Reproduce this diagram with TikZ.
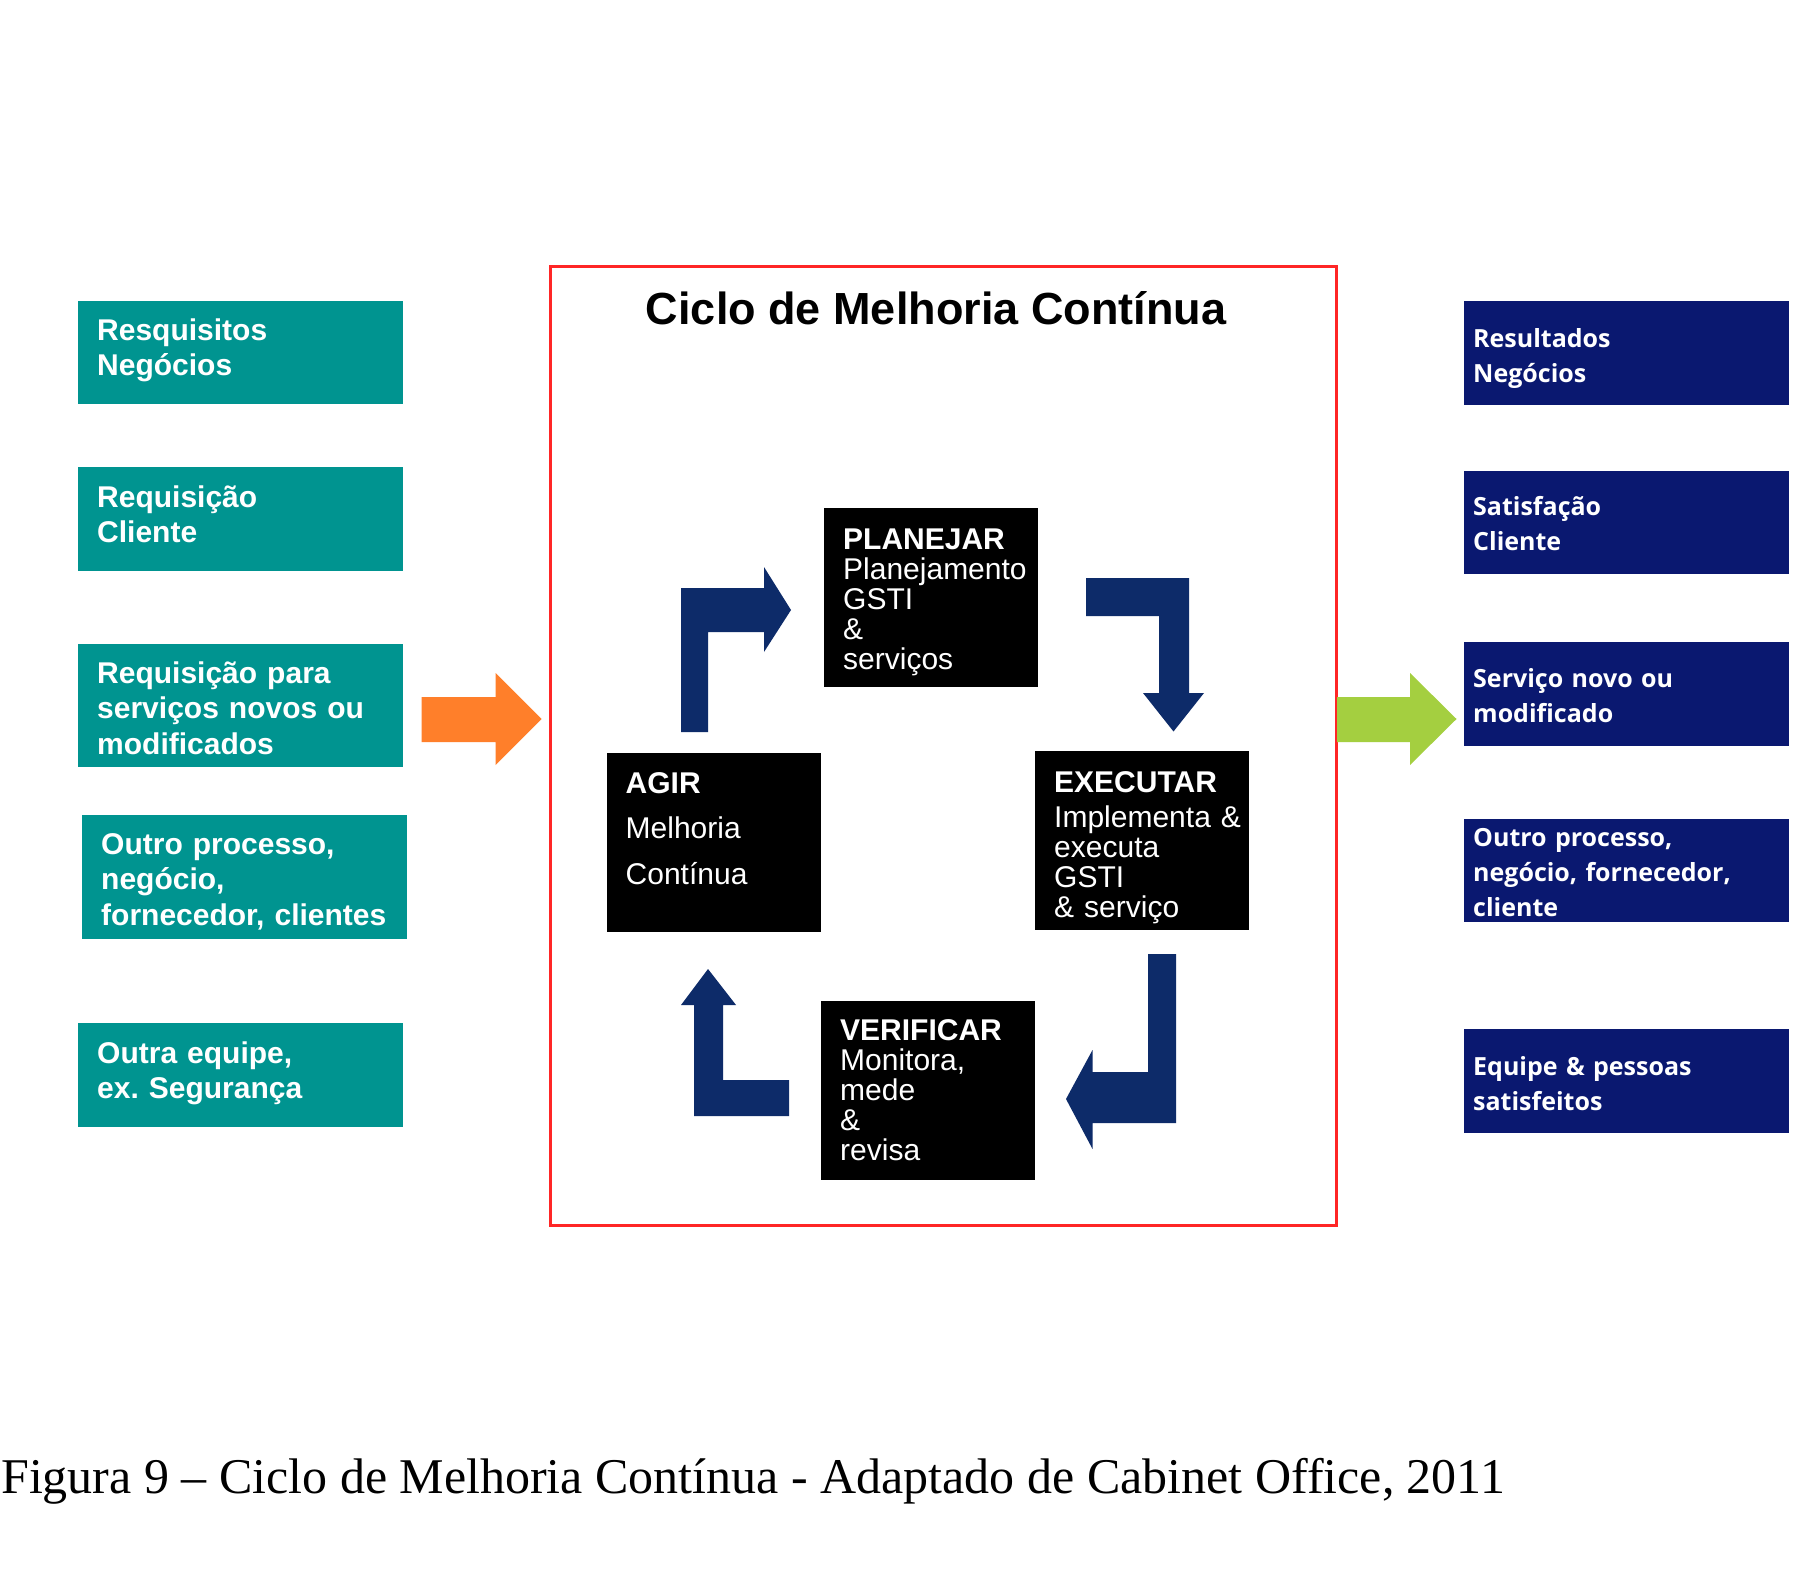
\documentclass[tikz,border=0pt]{standalone}
\usepackage{fontspec}
\setmainfont{Liberation Sans}
\newfontfamily\osfont{Open Sans}
\newfontfamily\capfont{Liberation Serif}
\definecolor{tealc}{RGB}{0,148,144}
\definecolor{navybox}{RGB}{10,24,112}
\definecolor{arrowc}{RGB}{13,43,105}
\definecolor{orangec}{RGB}{255,127,42}
\definecolor{greenc}{RGB}{164,207,64}
\definecolor{redc}{RGB}{255,38,38}
\frenchspacing
\begin{document}
\begin{tikzpicture}[x=1pt,y=-1pt,
  lbox/.style={fill=tealc,draw=none,inner sep=0pt,anchor=north west,minimum width=325pt},
  rbox/.style={fill=navybox,draw=none,inner sep=0pt,anchor=north west,minimum width=325pt},
  bbox/.style={fill=black,draw=none,inner sep=0pt,anchor=north west,minimum width=214pt,minimum height=179pt},
  ltext/.style={anchor=base west,align=left,text width=310pt,inner sep=0pt,text=white,font=\bfseries\fontsize{30}{35.5}\selectfont},
  rtext/.style={anchor=base west,align=left,text width=310pt,inner sep=0pt,text=white,font=\osfont\bfseries\fontsize{25}{35}\selectfont},
  btext/.style={anchor=base west,align=left,text width=200pt,inner sep=0pt,text=white,font=\fontsize{30}{30}\selectfont},
  blockarrow/.style={fill=arrowc,draw=none}
]
\useasboundingbox (0,0) rectangle (1816,1592);
\fill[white] (0,0) rectangle (1816,1592);

% red frame
\node[draw=redc,line width=3pt,inner sep=0pt,anchor=north west,minimum width=786pt,minimum height=959pt] (frame) at (549,265) {};
\node[anchor=base,inner sep=0pt,font=\bfseries\fontsize{45}{50}\selectfont] (title) at (936,324) {Ciclo de Melhoria Contínua};

% left boxes
\node[lbox,minimum height=103pt] (L1) at (78,301) {};
\node[lbox,minimum height=104pt] (L2) at (78,467) {};
\node[lbox,minimum height=123pt] (L3) at (78,644) {};
\node[lbox,minimum height=124pt] (L4) at (82,815) {};
\node[lbox,minimum height=104pt] (L5) at (78,1023) {};
\node[ltext] (L1t) at ([xshift=19pt,yshift=-39pt]L1.north west) {Resquisitos\\Negócios};
\node[ltext] (L2t) at ([xshift=19pt,yshift=-40pt]L2.north west) {Requisição\\Cliente};
\node[ltext] (L3t) at ([xshift=19pt,yshift=-39pt]L3.north west) {Requisição para\\serviços novos ou\\modificados};
\node[ltext] (L4t) at ([xshift=19pt,yshift=-39pt]L4.north west) {Outro processo,\\negócio,\\fornecedor, clientes};
\node[ltext] (L5t) at ([xshift=19pt,yshift=-40pt]L5.north west) {Outra equipe,\\ex. Segurança};

% right boxes
\node[rbox,minimum height=104pt] (R1) at (1464,301) {};
\node[rbox,minimum height=103pt] (R2) at (1464,470.5) {};
\node[rbox,minimum height=104pt] (R3) at (1464,642) {};
\node[rbox,minimum height=103pt] (R4) at (1464,819) {};
\node[rbox,minimum height=104pt] (R5) at (1464,1029) {};
\node[rtext] (R1t) at ([xshift=9pt,yshift=-46pt]R1.north west) {Resultados\\Negócios};
\node[rtext] (R2t) at ([xshift=9pt,yshift=-45pt]R2.north west) {Satisfação\\Cliente};
\node[rtext] (R3t) at ([xshift=9pt,yshift=-45pt]R3.north west) {Serviço novo ou\\modificado};
\node[rtext] (R4t) at ([xshift=9pt,yshift=-27pt]R4.north west) {Outro processo,\\negócio, fornecedor,\\cliente};
\node[rtext] (R5t) at ([xshift=9pt,yshift=-46pt]R5.north west) {Equipe \& pessoas\\satisfeitos};

% black cycle boxes
\node[bbox] (P) at (824,508) {};
\node[bbox] (E) at (1035,751) {};
\node[bbox] (A) at (606.5,753) {};
\node[bbox] (V) at (821,1000.5) {};
\node[btext] (Pt) at ([xshift=19pt,yshift=-41pt]P.north west) {\textbf{PLANEJAR}\\Planejamento\\GSTI\\\&\\serviços};
\node[btext] (Et) at ([xshift=19pt,yshift=-41pt]E.north west) {\textbf{EXECUTAR}\\[5pt]Implementa \&\\executa\\GSTI\\\& serviço};
\node[btext,font=\fontsize{30}{45.5}\selectfont] (At) at ([xshift=19pt,yshift=-40pt]A.north west) {\textbf{AGIR}\\Melhoria\\Contínua};
\node[btext] (Vt) at ([xshift=19pt,yshift=-40pt]V.north west) {\textbf{VERIFICAR}\\Monitora,\\mede\\\&\\revisa};

% cycle block arrows
\fill[blockarrow] (681,732) -- (681,588) -- (764,588) -- (764,567) -- (791,610) -- (764,652) -- (764,632) -- (708,632) -- (708,732) -- cycle;
\fill[blockarrow] (1086,578) -- (1189,578) -- (1189,693) -- (1204,693) -- (1173.5,731.5) -- (1143,693) -- (1159,693) -- (1159,616) -- (1086,616) -- cycle;
\fill[blockarrow] (1148,954) -- (1176,954) -- (1176,1123) -- (1092.5,1123) -- (1092.5,1149) -- (1066,1099) -- (1092.5,1050) -- (1092.5,1072) -- (1148,1072) -- cycle;
\fill[blockarrow] (789,1080) -- (789,1116) -- (694,1116) -- (694,1005) -- (681,1005) -- (708,969) -- (736,1005) -- (723,1005) -- (723,1080) -- cycle;

% input / output arrows
\fill[orangec] (421.5,697) -- (495.5,697) -- (495.5,673) -- (541.5,719) -- (495.5,765) -- (495.5,742) -- (421.5,742) -- cycle;
\fill[greenc] (1337,697) -- (1410,697) -- (1410,673) -- (1456.5,719) -- (1410,765) -- (1410,742) -- (1337,742) -- cycle;

% caption
\node[anchor=base west,inner sep=0pt,font=\capfont\fontsize{50}{60}\selectfont] (cap) at (1,1493) {Figura 9 – Ciclo de Melhoria Contínua - Adaptado de Cabinet Office, 2011};
\end{tikzpicture}
\end{document}
